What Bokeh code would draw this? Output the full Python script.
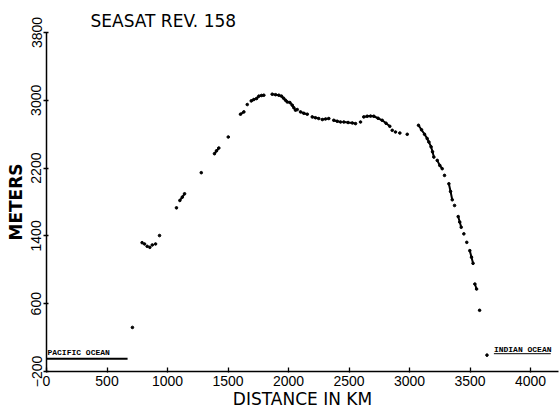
from bokeh.plotting import figure
from bokeh.models import FixedTicker, Range1d, ColumnDataSource
from bokeh.core.properties import value
from bokeh.embed import file_html
from bokeh.resources import INLINE

title_text = "SEASAT  REV. 158"
x_label = "DISTANCE IN KM"
y_label = "METERS"
x_ticks = [0, 500, 1000, 1500, 2000, 2500, 3000, 3500, 4000]
y_ticks = [-200, 600, 1400, 2200, 3000, 3800]

# altimeter track (distance km, height m, stroke group)
distance_km = [710, 790, 810, 832, 854, 874, 901, 934, 1074,
               1102, 1122, 1141, 1279, 1388, 1405, 1424, 1502, 1603, 1631, 1659,
               1692, 1713, 1736, 1755, 1777, 1796,
               1865, 1893, 1920, 1942, 1959, 1975, 1989, 2011, 2031, 2044, 2058,
               2072, 2099, 2126, 2155, 2196, 2223, 2250, 2279, 2306, 2333,
               2374, 2402, 2430, 2457, 2492, 2527, 2554, 2595,
               2622, 2650, 2678, 2705, 2740, 2774, 2806, 2837,
               2857, 2884, 2920, 2981,
               3074, 3099, 3124, 3146, 3160, 3178, 3190, 3201, 3229, 3250, 3270,
               3289, 3325, 3339, 3353, 3372, 3402, 3415, 3427, 3449, 3473,
               3498, 3512, 3525, 3540, 3554, 3579, 3640]
height_m = [320, 1320, 1305, 1277, 1265, 1293, 1305, 1404, 1731,
            1818, 1857, 1897, 2146, 2370, 2404, 2437, 2567, 2836, 2863, 2950,
            2993, 3009, 3021, 3049, 3057, 3060,
            3072, 3066, 3060, 3049, 3025, 3001, 2981, 2974, 2942, 2912, 2883,
            2891, 2863, 2847, 2836, 2804, 2794, 2785, 2773, 2780, 2785,
            2764, 2753, 2744, 2744, 2738, 2733, 2725, 2744,
            2804, 2812, 2814, 2812, 2788, 2764, 2729, 2693,
            2646, 2626, 2614, 2599,
            2705, 2652, 2599, 2548, 2508, 2451, 2392, 2330, 2291, 2232, 2193,
            2114, 2015, 1924, 1826, 1759, 1628, 1563, 1502, 1424, 1324,
            1226, 1149, 1076, 832, 773, 522, -7]
stroke = [0, 1, 2, 3, 4, 5, 6, 7, 8,
          9, 9, 9, 10, 11, 11, 11, 12, 13, 13, 14,
          15, 15, 15, 15, 15, 15,
          16, 16, 16, 16, 16, 16, 16, 16, 16, 16, 16,
          17, 18, 18, 18, 19, 19, 19, 20, 20, 20,
          21, 21, 21, 22, 22, 22, 22, 23,
          24, 24, 24, 24, 24, 24, 24, 24,
          25, 26, 27, 28,
          29, 29, 29, 29, 29, 29, 29, 29, 30, 30, 30,
          31, 32, 32, 32, 33, 34, 34, 34, 35, 36,
          37, 37, 37, 38, 38, 39, 40]

# sea level annotations
pacific_x = [0, 670]
pacific_y = [-50, -50]
indian_x = [3697, 4167]
indian_y = [10, 10]
ocean_names = ["PACIFIC OCEAN", "INDIAN OCEAN"]
ocean_name_x = [8, 3697]
ocean_name_y = [20, 62]

p = figure(width=559, height=413, output_backend="svg", toolbar_location=None,
           x_range=Range1d(0, 4231), y_range=Range1d(-200, 3800),
           min_border_left=46, min_border_right=1, min_border_top=32,
           min_border_bottom=42)
p.outline_line_color = None
p.xgrid.visible = False
p.ygrid.visible = False
p.background_fill_color = "white"
p.border_fill_color = "white"

p.title.text = title_text
p.title.text_font = "DejaVu Sans"
p.title.text_font_size = "17px"
p.title.text_font_style = "normal"
p.title.text_color = "black"
p.title.offset = 44
p.title.standoff = 3

# strokes
groups = {}
for x, y, s in zip(distance_km, height_m, stroke):
    groups.setdefault(s, ([], []))
    groups[s][0].append(x)
    groups[s][1].append(y)
xs = [g[0] for g in groups.values() if len(g[0]) > 1]
ys = [g[1] for g in groups.values() if len(g[0]) > 1]
p.multi_line(xs, ys, line_color="black", line_width=2)
p.scatter(distance_km, height_m, size=2.6, color="black")

p.line(pacific_x, pacific_y, line_color="black", line_width=2)
p.line(indian_x, indian_y, line_color="black", line_width=1)
src = ColumnDataSource(dict(x=ocean_name_x, y=ocean_name_y, t=ocean_names))
p.text("x", "y", text="t", source=src, text_font=value("Liberation Mono"),
       text_font_size="8px", text_font_style="bold", text_color="black",
       text_baseline="alphabetic", text_align="left")

for ax in (p.xaxis[0], p.yaxis[0]):
    ax.axis_line_width = 1.5
    ax.axis_line_color = "black"
    ax.major_tick_line_color = "black"
    ax.major_tick_line_width = 1.3
    ax.minor_tick_line_color = None
    ax.major_label_text_font = "Liberation Sans"
    ax.major_label_text_font_size = "14px"
    ax.major_label_text_color = "black"
    ax.axis_label_text_font = "DejaVu Sans"
    ax.axis_label_text_color = "black"

p.xaxis.ticker = FixedTicker(ticks=x_ticks)
p.yaxis.ticker = FixedTicker(ticks=y_ticks)
p.xaxis.axis_label = x_label
p.yaxis.axis_label = y_label
p.xaxis.axis_label_text_font_size = "17px"
p.xaxis.axis_label_text_font_style = "normal"
p.yaxis.axis_label_text_font_size = "17px"
p.yaxis.axis_label_text_font_style = "bold"
p.xaxis.major_tick_in = 4
p.xaxis.major_tick_out = 1
p.yaxis.major_tick_in = 2
p.yaxis.major_tick_out = 3
p.xaxis.major_label_standoff = 3
p.xaxis.axis_label_standoff = 0
p.yaxis.major_label_standoff = 2
p.yaxis.axis_label_standoff = 3
p.yaxis.major_label_orientation = "vertical"

open("out.html", "w").write(file_html(p, INLINE))
